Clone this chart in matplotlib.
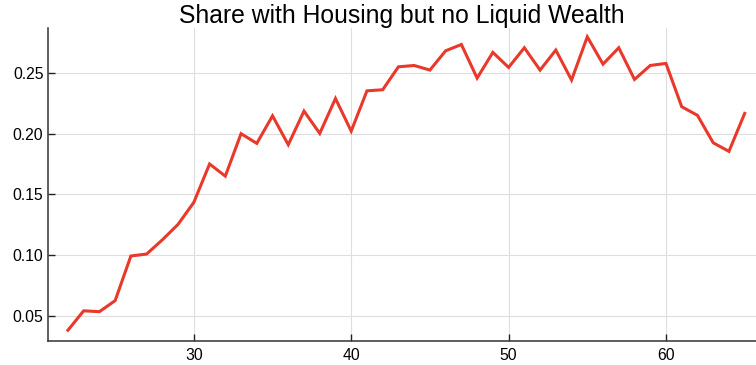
import matplotlib
matplotlib.use("Agg")
import matplotlib.pyplot as plt

plt.rcParams['font.family'] = ['Liberation Sans', 'DejaVu Sans']

ages = list(range(22, 66))
share = [0.038, 0.054, 0.0533, 0.0624, 0.0992, 0.1008, 0.1125, 0.1253, 0.1434,
         0.175, 0.165, 0.200, 0.192, 0.2147, 0.1909, 0.2186, 0.2002, 0.229,
         0.2021, 0.2353, 0.2362, 0.2551, 0.2562, 0.2524, 0.2683, 0.2735,
         0.2458, 0.267, 0.2546, 0.2708, 0.2524, 0.2689, 0.2442, 0.2798,
         0.2573, 0.2708, 0.2447, 0.2562, 0.2579, 0.2222, 0.2151, 0.1925,
         0.1854, 0.2167]
title = "Share with Housing but no Liquid Wealth"
xticks = [30, 40, 50, 60]
yticks = [0.05, 0.10, 0.15, 0.20, 0.25]

fig = plt.figure(figsize=(7.56, 3.65), dpi=100)
ax = fig.add_axes([0.063, 0.066, 0.937, 0.857])

ax.plot(ages, share, color='#e8392b', linewidth=2.2, solid_joinstyle='miter')

ax.set_xlim(20.71, 65.72)
ax.set_ylim(0.0292, 0.287)
ax.set_xticks(xticks)
ax.set_xticklabels([str(t) for t in xticks])
ax.set_yticks(yticks)
ax.set_yticklabels([f"{t:.2f}" for t in yticks])

ax.grid(True, color='#dedede', linewidth=0.8)
ax.set_axisbelow(True)
for s in ('top', 'right'):
    ax.spines[s].set_visible(False)
for s in ('left', 'bottom'):
    ax.spines[s].set_color('#333333')
    ax.spines[s].set_linewidth(1.1)
ax.tick_params(direction='in', length=5, width=1, color='#222222',
               labelsize=11.3, labelcolor='black')
ax.tick_params(axis='y', pad=3)
ax.tick_params(axis='x', pad=5)

ax.set_title(title, fontsize=17.8, pad=4)

fig.savefig("out.png", dpi=100)
